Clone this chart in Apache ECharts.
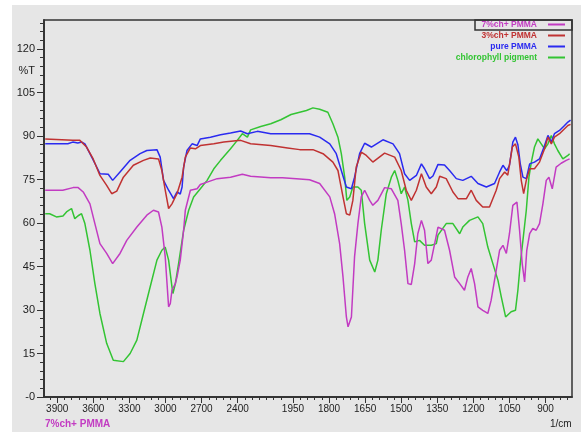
<!DOCTYPE html>
<html><head><meta charset="utf-8">
<script src="https://cdn.jsdelivr.net/npm/echarts@6/dist/echarts.min.js"></script>
<style>html,body{margin:0;padding:0;background:#fff}#c{width:581px;height:432px}</style>
</head><body><div id="c"></div>
<script>
const seriesNames = ['7%ch+ PMMA', '3%ch+ PMMA', 'pure PMMA', 'chlorophyll pigment'];
const seriesColors = ['#c23bc2', '#c03232', '#2a2af0', '#33c433'];
const xTickLabels = [3900, 3600, 3300, 3000, 2700, 2400, 1950, 1800, 1650, 1500, 1350, 1200, 1050, 900];
const yTickLabels = [0, 15, 30, 45, 60, 75, 90, 105, 120];
const yAxisTitle = '%T';
const xAxisTitle = '1/cm';
const footNote = '7%ch+ PMMA';

// [wavenumber (1/cm), %T]
const ch7PMMA = [[4000,71.3],[3854,71.3],[3768,72.2],[3726,72.2],[3684,70.7],[3628,66.6],[3587,59.8],[3545,52.9],[3489,49.5],[3439,46],[3378,49.5],[3322,54],[3238,58.6],[3155,62.7],[3100,64.4],[3058,63.8],[3030,58.6],[3002,48.3],[2974,31.1],[2960,32.2],[2946,36.8],[2918,39.1],[2904,41.4],[2877,47.2],[2849,57.5],[2835,64.4],[2793,71.3],[2737,71.8],[2710,73.3],[2654,74.1],[2570,75.3],[2459,75.8],[2361,76.8],[2292,76.1],[2125,75.6],[2027,75.6],[1936,75.3],[1881,74.9],[1839,73.6],[1797,69],[1777,63.2],[1756,52.9],[1742,41.4],[1728,27.6],[1721,24.2],[1707,27.6],[1694,48.3],[1680,59.8],[1666,69],[1652,71.3],[1631,67.8],[1618,66.1],[1597,67.8],[1569,72.2],[1541,71.8],[1514,67.8],[1500,59.8],[1486,50.6],[1472,39.1],[1458,38.8],[1444,46],[1431,56.3],[1416,60.9],[1403,57.5],[1389,46],[1375,47.2],[1361,52.9],[1347,58.6],[1320,57.5],[1299,50.6],[1278,41.4],[1257,39.1],[1237,36.8],[1223,41.4],[1209,44.3],[1195,39.1],[1181,31.1],[1161,29.9],[1140,28.8],[1126,33.4],[1112,40.3],[1091,50.6],[1077,52.3],[1063,49.5],[1050,56.3],[1036,66.1],[1019,67.2],[1008,57.5],[997,46],[987,39.7],[978,50.6],[966,56.3],[953,58.1],[939,57.5],[925,59.8],[911,66.6],[897,74.7],[886,75.8],[872,71.8],[856,79.3],[835,80.6],[814,81.6],[800,82.1]];
const ch3PMMA = [[4000,89],[3771,88.5],[3712,88.5],[3656,86.2],[3601,82.1],[3545,76.4],[3489,73],[3447,70.1],[3405,71],[3350,75.8],[3267,79.9],[3183,81.6],[3127,82.4],[3058,82.1],[3030,78.1],[3002,71.3],[2974,65],[2946,66.6],[2918,69],[2904,70.1],[2891,69.5],[2862,75.8],[2835,82.7],[2793,85.9],[2751,85.6],[2710,86.7],[2598,87.3],[2515,87.9],[2375,88.5],[2292,87.3],[2125,86.7],[1985,85.9],[1922,85.3],[1867,85.3],[1825,83.9],[1784,81],[1763,78.1],[1742,69],[1728,63.2],[1714,62.7],[1701,67.8],[1687,79.3],[1666,84.4],[1645,83.3],[1618,81],[1569,84.1],[1527,82.7],[1500,78.1],[1479,71.3],[1458,67.8],[1437,71.3],[1416,77],[1396,72.4],[1375,70.1],[1354,72.4],[1340,76.1],[1313,75.3],[1285,70.7],[1264,68.4],[1229,68.4],[1209,71.3],[1188,67.8],[1161,65.5],[1133,65.5],[1105,71.3],[1091,75.3],[1070,77.6],[1057,76.5],[1038,86.2],[1025,87.3],[1011,82.7],[1001,74.7],[991,70.1],[980,74.7],[966,78.7],[946,78.7],[925,81],[904,85.6],[890,89.6],[876,87.3],[863,89.6],[842,90.8],[821,92.5],[807,93.6],[796,94]];
const purePMMA = [[4000,87.3],[3812,87.3],[3771,87.9],[3729,87.6],[3695,87.9],[3670,87.3],[3628,83.9],[3572,79.3],[3545,77],[3476,76.8],[3439,74.7],[3378,77.6],[3294,81.6],[3211,83.9],[3155,85],[3071,85.3],[3044,82.7],[3016,74.7],[2974,71.3],[2933,68.4],[2904,70.7],[2877,70],[2862,72.4],[2849,79.3],[2821,85],[2779,87.3],[2737,86.7],[2710,89],[2626,89.6],[2542,90.4],[2459,91],[2375,91.7],[2319,90.8],[2236,91.6],[2125,90.8],[1958,90.8],[1881,90.8],[1839,89.6],[1797,87.3],[1770,83.9],[1749,78.1],[1728,72.4],[1707,71.8],[1694,75.8],[1673,83.9],[1652,87.5],[1624,86.2],[1576,88.7],[1534,87.3],[1507,83.9],[1486,77],[1465,74.7],[1437,76.4],[1416,80.4],[1403,78.7],[1382,75.3],[1368,76.2],[1347,80.2],[1320,80],[1299,78.1],[1271,75.3],[1244,74.7],[1209,76.1],[1181,73.6],[1146,72.4],[1112,73.6],[1091,77.6],[1077,79.9],[1061,78],[1050,79.9],[1036,87.9],[1025,89.6],[1015,87],[1005,80.4],[994,75.8],[980,75.3],[966,80.4],[946,81],[925,82.1],[904,86.7],[890,90.2],[876,87.9],[863,90.8],[842,91.9],[821,93.6],[807,94.8],[796,95.5]];
const chlorophyll = [[4000,63.2],[3963,63.2],[3907,62.1],[3852,62.4],[3823,63.8],[3781,65],[3754,61.5],[3726,62.5],[3698,63.2],[3670,59.8],[3628,50.6],[3587,39.1],[3545,28.8],[3489,18.5],[3434,12.7],[3350,12.2],[3294,15],[3238,19.6],[3183,28.8],[3127,38],[3071,47.2],[3030,50.6],[3002,51.7],[2974,47.2],[2946,38],[2938,35.7],[2918,39.1],[2891,46],[2849,57.5],[2807,64.4],[2766,69],[2710,71.8],[2654,74.7],[2598,78.7],[2542,81.6],[2459,85.6],[2403,88.5],[2361,90.8],[2319,89.6],[2292,92.1],[2208,93.3],[2125,94.2],[2041,95.6],[1958,97.4],[1922,98.2],[1894,98.8],[1867,99.7],[1839,99.2],[1805,98.2],[1784,94.2],[1763,89.6],[1749,83.9],[1735,75.8],[1726,67.8],[1714,69],[1701,72.4],[1680,72.4],[1666,71.3],[1652,59.8],[1631,47.2],[1610,43.1],[1597,47.2],[1583,57.5],[1562,70.1],[1541,75.8],[1527,78.1],[1514,74.7],[1500,70.1],[1486,72.4],[1472,67.8],[1458,59.8],[1444,53.5],[1424,54],[1403,52.3],[1375,52.3],[1354,52.9],[1347,55.8],[1313,59.8],[1285,59.8],[1257,56.3],[1244,58.6],[1216,60.9],[1181,62.1],[1161,59.8],[1140,51.7],[1119,46],[1098,40.3],[1084,34.5],[1066,27.6],[1043,29.4],[1025,29.9],[1015,36.8],[1005,46],[994,54],[980,64.4],[969,75.8],[959,81],[946,86.2],[932,89],[918,87.3],[904,85.6],[890,87.3],[876,90.2],[863,87.3],[849,85],[828,82.1],[807,83.3],[800,83.9]];

// The instrument axis is compressed by 2x above the break.
const BREAK = 1960;
function toAxis(wn) { return wn <= BREAK ? wn : BREAK + (wn - BREAK) / 2; }
function fromAxis(t) { return t <= BREAK ? t : BREAK + 2 * (t - BREAK); }

const xMinorTicks = [];
for (let w = 3960; w >= 2040; w -= 60) xMinorTicks.push(toAxis(w));
for (let w = 1950; w >= 810; w -= 30) xMinorTicks.push(toAxis(w));
const yMinorTicks = [];
for (let v = 0; v <= 129; v += 3) yMinorTicks.push(v);

const dataSets = [ch7PMMA, ch3PMMA, purePMMA, chlorophyll];
const drawOrder = [3, 2, 1, 0];

const chart = echarts.init(document.getElementById('c'), null, {renderer: 'canvas'});
const xMin = toAxis(790), xMax = toAxis(4010);
const lab = {color: '#222', fontFamily: 'Liberation Sans, Arial, sans-serif', fontSize: 10};

chart.setOption({
  animation: false,
  backgroundColor: '#ffffff',
  graphic: [
    {type: 'rect', z: -10, silent: true, shape: {x: 12, y: 5, width: 569, height: 427}, style: {fill: '#e6e6e6'}},
    {type: 'rect', z: 100, shape: {x: 475, y: 20, width: 97, height: 10}, style: {fill: 'none', stroke: '#333', lineWidth: 1.5}},
    {type: 'text', left: 45, top: 419, style: {text: footNote, fill: '#c23bc2', font: 'bold 10px Liberation Sans, Arial, sans-serif'}},
    {type: 'text', left: 550, top: 419, style: {text: xAxisTitle, fill: '#222', font: '10px Liberation Sans, Arial, sans-serif'}}
  ],
  grid: {left: 44, right: 9, top: 20, bottom: 35, show: true, borderColor: '#333', borderWidth: 1.5, backgroundColor: 'transparent'},
  legend: {
    orient: 'vertical', right: 16, top: 20, align: 'right', itemGap: 2, padding: 0,
    itemWidth: 17, itemHeight: 2, icon: 'rect',
    data: seriesNames.map((n, i) => ({name: n, textStyle: {color: seriesColors[i]}})),
    textStyle: {fontSize: 8.5, fontWeight: 'bold', lineHeight: 8, padding: [0, 6, 0, 0], fontFamily: 'Liberation Sans, Arial, sans-serif'}
  },
  xAxis: [
    {type: 'value', inverse: true, min: xMin, max: xMax, splitLine: {show: false},
     axisLine: {show: true, onZero: false, lineStyle: {color: '#333', width: 1.5}},
     axisTick: {show: true, length: 6, customValues: xTickLabels.map(toAxis), lineStyle: {color: '#333'}},
     axisLabel: Object.assign({margin: 7, customValues: xTickLabels.map(toAxis),
       formatter: v => String(Math.round(fromAxis(v) / 50) * 50)}, lab)},
    {type: 'value', inverse: true, min: xMin, max: xMax, position: 'bottom', offset: 0, show: true, splitLine: {show: false},
     axisLine: {show: true, onZero: false, lineStyle: {color: '#333', width: 1.5}},
     axisLabel: {show: true, customValues: xMinorTicks, formatter: () => ''},
     axisTick: {show: true, length: 3, customValues: xMinorTicks, lineStyle: {color: '#333'}}}
  ],
  yAxis: [
    {type: 'value', min: 0, max: 130, splitLine: {show: false},
     axisLine: {show: true, onZero: false, lineStyle: {color: '#333', width: 1.5}},
     axisTick: {show: true, length: 7, customValues: yTickLabels, lineStyle: {color: '#333'}},
     axisLabel: Object.assign({margin: 9, customValues: yTickLabels.concat([112.5]),
       formatter: v => v === 0 ? '-0' : (v === 112.5 ? yAxisTitle : String(v))}, lab, {fontSize: 11})},
    {type: 'value', min: 0, max: 130, position: 'left', offset: 0, show: true, splitLine: {show: false},
     axisLine: {show: true, onZero: false, lineStyle: {color: '#333', width: 1.5}},
     axisLabel: {show: true, customValues: yMinorTicks, formatter: () => ''},
     axisTick: {show: true, length: 4, customValues: yMinorTicks, lineStyle: {color: '#333'}}}
  ],
  series: drawOrder.map(i => ({
    name: seriesNames[i], type: 'line', xAxisIndex: 0, yAxisIndex: 0,
    showSymbol: false, symbol: 'none',
    lineStyle: {color: seriesColors[i], width: 1.5},
    itemStyle: {color: seriesColors[i]},
    data: dataSets[i].map(p => [toAxis(p[0]), p[1]])
  }))
});
</script></body></html>
